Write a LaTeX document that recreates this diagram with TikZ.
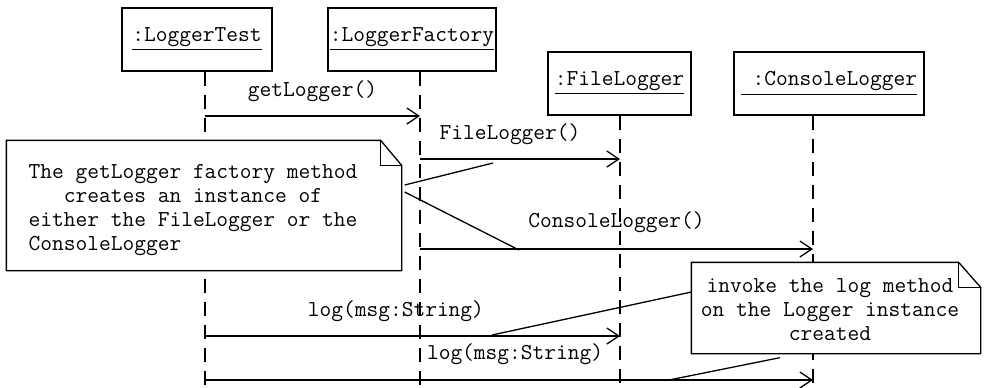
\documentclass[tikz,border=0pt]{standalone}
\usetikzlibrary{arrows.meta}

\begin{document}
\begin{tikzpicture}[
    x=0.5pt, y=-0.5pt,
    line width=0.65pt,
    every node/.style={font=\ttfamily\fontsize{11.4}{12}\selectfont},
    object/.style={draw, fill=white, minimum height=31.5pt, inner sep=0pt},
    lifeline/.style={dash pattern=on 7pt off 4.5pt},
    message/.style={-{Straight Barb[length=6pt, width=8pt]}},
    notebox/.style={inner sep=0pt},
    notetext/.style={align=center, inner sep=0pt}
]
\useasboundingbox (0,0) rectangle (984,387);

\node[object, minimum width=75pt] (test) at (197,39.5) {\underline{:LoggerTest}};
\node[object, minimum width=84pt] (factory) at (412,39.5) {\underline{:LoggerFactory}};
\node[object, minimum width=71.5pt] (file) at (619.5,83.5) {\underline{:FileLogger}};
\node[object, minimum width=95pt] (console) at (829,83.5) {\underline{\ :ConsoleLogger}};

\coordinate (testEnd) at (205,387);
\coordinate (factoryEnd) at (420,387);
\coordinate (fileEnd) at (620,387);
\coordinate (consoleEnd) at (813,387);
\draw[lifeline] (test.south -| testEnd) -- (testEnd);
\draw[lifeline] (factory.south -| factoryEnd) -- (factoryEnd);
\draw[lifeline] (file.south -| fileEnd) -- (fileEnd);
\draw[lifeline] (console.south -| consoleEnd) -- (consoleEnd);

\coordinate (r1) at (0,116);
\coordinate (r2) at (0,159);
\coordinate (r3) at (0,249);
\coordinate (r4) at (0,336);
\coordinate (r5) at (0,380);
\draw[message] (testEnd |- r1) -- node[above=3.5pt] {getLogger()} (factoryEnd |- r1);
\draw[message] (factoryEnd |- r2) -- node[pos=0.45, above=3.5pt] {FileLogger()} (fileEnd |- r2);
\draw[message] (factoryEnd |- r3) -- node[above=4.5pt] {ConsoleLogger()} (consoleEnd |- r3);
\draw[message] (testEnd |- r4) -- node[pos=0.46, above=3.5pt] {log(msg:String)} (fileEnd |- r4);
\draw[message] (testEnd |- r5) -- node[pos=0.51, above=4pt] {log(msg:String)} (consoleEnd |- r5);

\node[notebox, minimum width=197pt, minimum height=64.5pt] (note1) at (204,205.5) {};
\draw[fill=white] (note1.north west) -- ([xshift=-10.5pt]note1.north east) -- ([yshift=-12.5pt]note1.north east)
    -- (note1.south east) -- (note1.south west) -- cycle;
\draw ([xshift=-10.5pt]note1.north east) |- ([yshift=-12.5pt]note1.north east);
\node[notetext] (note1text) at ([xshift=-5.5pt, yshift=-2.25pt]note1.center)
    {The getLogger factory method\\creates an instance of\\either the FileLogger or the\\ConsoleLogger\phantom{xxxxxxxxxxxxxxx}};

\node[notebox, minimum width=144pt, minimum height=45pt] (note2) at (836,308) {};
\draw[fill=white] (note2.north west) -- ([xshift=-11pt]note2.north east) -- ([yshift=-12.5pt]note2.north east)
    -- (note2.south east) -- (note2.south west) -- cycle;
\draw ([xshift=-11pt]note2.north east) |- ([yshift=-12.5pt]note2.north east);
\node[notetext] (note2text) at ([xshift=-3pt, yshift=-1pt]note2.center)
    {invoke the log method\\on the Logger instance\\created};

\coordinate (fileCall) at (493,163);
\coordinate (consoleCall) at (519,250);
\coordinate (logCall) at (492,335);
\coordinate (logCall2) at (669,380);
\draw ([xshift=1.5pt, yshift=10.25pt]note1.east) -- (fileCall);
\draw ([xshift=1.5pt, yshift=6.75pt]note1.east) -- (consoleCall);
\draw ([yshift=8pt]note2.west) -- (logCall);
\draw ([xshift=-28pt, yshift=-2pt]note2.south) -- (logCall2);
\end{tikzpicture}
\end{document}
